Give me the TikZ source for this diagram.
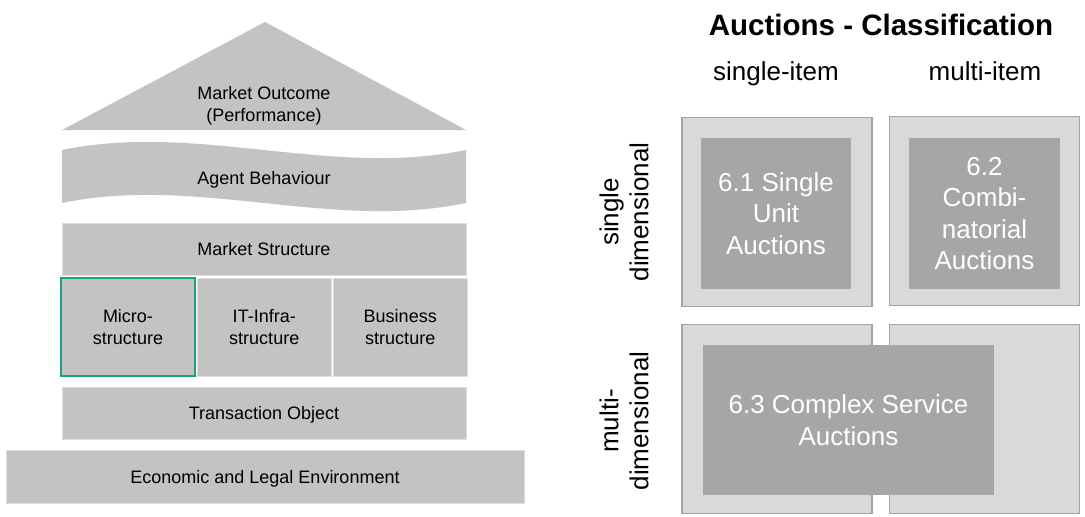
\documentclass[tikz,border=0pt]{standalone}
\usepackage{fontspec}
\setmainfont{Liberation Sans}
\usetikzlibrary{positioning}
\definecolor{layer}{HTML}{C3C3C3}
\definecolor{layeredge}{HTML}{DEDEDE}
\definecolor{microline}{HTML}{1F9C86}
\definecolor{cellfill}{HTML}{D9D9D9}
\definecolor{celledge}{HTML}{A3A3A3}
\definecolor{classfill}{HTML}{A6A6A6}

\begin{document}
\begin{tikzpicture}[x=1pt, y=-1pt,
  layertext/.style={align=center, font=\fontsize{18}{21.5}\selectfont},
  layerbox/.style={layertext, draw=layeredge, fill=layer, line width=1pt, inner sep=0pt, minimum height=52pt, text height=15.5pt, text depth=2.5pt},
  partbox/.style={layertext, draw=layeredge, fill=layer, line width=1pt, inner sep=0pt, minimum width=134pt, minimum height=98pt},
  cellbox/.style={draw=celledge, fill=cellfill, line width=1.5pt, inner sep=0pt, minimum width=190pt, minimum height=189pt},
  classbox/.style={fill=classfill, inner sep=0pt, align=center, text=white, font=\fontsize{26}{31.5}\selectfont},
  axislabel/.style={align=center, font=\fontsize{26}{30}\selectfont}]
  \useasboundingbox (0,0) rectangle (1085,517);

  % market house
  \fill[layer] (62,130) -- (265,22) -- (466,130) -- cycle;
  \node[layertext] (outcome) at (264,106) {Market Outcome\\(Performance)};
  \fill[layer] (62,150) .. controls (197,122) and (331,178) .. (466,150) -- (466,203)
    .. controls (331,231) and (197,175) .. (62,203) -- cycle;
  \node[layertext] (behaviour) at (264,179.5) {Agent Behaviour};
  \node[layerbox, minimum width=404pt] (mstruct) at (264,249) {Market Structure};
  \node[partbox, draw=microline, line width=1.5pt] (micro) at (128,327) {Micro-\\structure};
  \node[partbox, right=1pt of micro] (infra) {IT-Infra-\\structure};
  \node[partbox, right=1pt of infra] (business) {Business\\structure};
  \node[layerbox, minimum width=404pt] (transaction) at (264,413) {Transaction Object};
  \node[layerbox, minimum width=518pt, minimum height=53pt] (environment) at (265,476.5) {Economic and Legal Environment};

  % classification grid
  \node[anchor=base, font=\fontsize{29.5}{34}\selectfont\bfseries] (title) at (881,35) {Auctions - Classification};
  \node[anchor=base, font=\fontsize{26}{30}\selectfont] (singleitem) at (776,80) {single-item};
  \node[anchor=base, font=\fontsize{26}{30}\selectfont] (multiitem) at (985,80) {multi-item};
  \node[axislabel, rotate=90] (singledim) at (624,212) {single\\dimensional};
  \node[axislabel, rotate=90] (multidim) at (624,421) {multi-\\dimensional};
  \node[cellbox] (sdsingle) at (777,212) {};
  \node[cellbox] (sdmulti) at (984.5,211) {};
  \node[cellbox] (mdsingle) at (777,419) {};
  \node[cellbox] (mdmulti) at (984.5,419) {};
  \node[classbox, minimum width=150pt, minimum height=151pt] (singleunit) at (776,213.5) {6.1 Single\\Unit\\Auctions};
  \node[classbox, minimum width=151pt, minimum height=151pt] (combinatorial) at (984.5,213.5) {6.2\\Combi-\\natorial\\Auctions};
  \node[classbox, minimum width=291pt, minimum height=150pt] (complex) at (848.5,420) {6.3 Complex Service\\Auctions};
\end{tikzpicture}
\end{document}
